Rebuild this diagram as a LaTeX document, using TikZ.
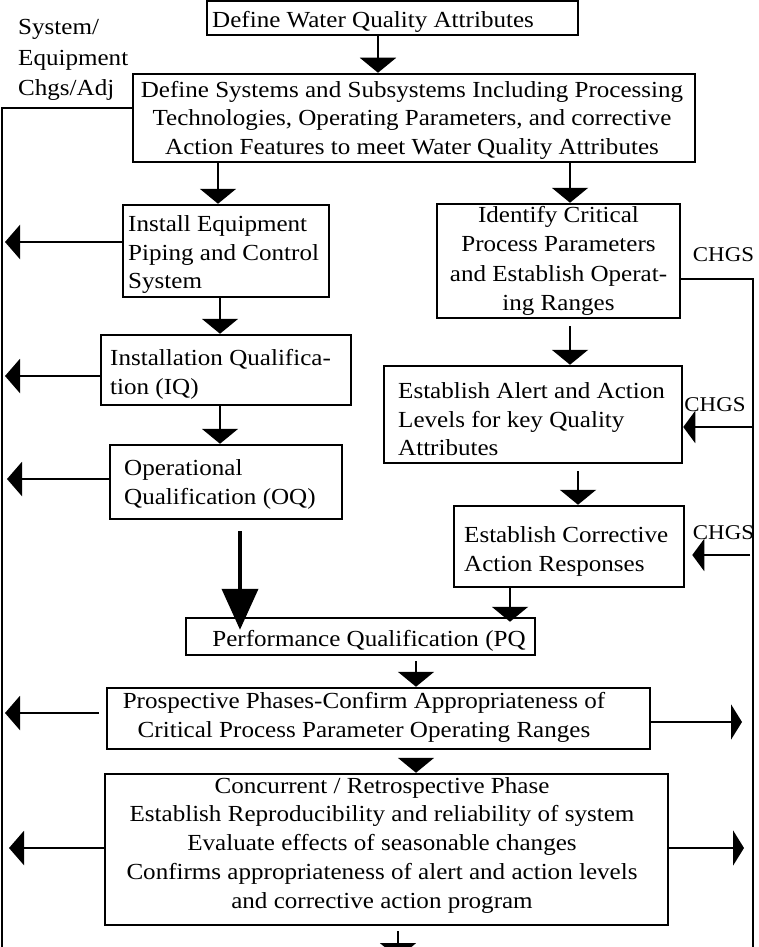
\documentclass[tikz,border=0pt]{standalone}
\usepackage{fontspec}
\setmainfont{Liberation Serif}[FakeStretch=1.09]
\usetikzlibrary{arrows.meta}
\begin{document}
\begin{tikzpicture}[x=1pt,y=-1pt,
  box/.style={draw,line width=2.5pt,inner sep=0pt},
  txt/.style={inner sep=0pt,font=\fontsize{23}{28.5}\selectfont},
  lab/.style={inner sep=0pt,align=left,font=\fontsize{23}{30.5}\selectfont},
  chgs/.style={inner sep=0pt,font=\fontsize{21}{24}\selectfont},
  arr/.style={line width=2.5pt,-{Triangle[length=15pt,width=36pt]}},
  bigarr/.style={line width=4pt,-{Triangle[length=41pt,width=36pt]}},
  larr/.style={line width=2.5pt,-{Triangle[length=15pt,width=34pt]}},
  carr/.style={line width=2.5pt,-{Triangle[length=12pt,width=32pt]}},
  rarr/.style={line width=2.5pt,-{Triangle[length=11pt,width=35pt]}},
  conn/.style={line width=2pt}]
\useasboundingbox (0,0) rectangle (758,947);
% boxes
\node[box,minimum width=371,minimum height=34] (b1) at (392.5,18) {};
\node[box,minimum width=562,minimum height=88] (b2) at (414,118) {};
\node[box,minimum width=206,minimum height=92] (b3) at (226,251) {};
\node[box,minimum width=243,minimum height=114] (b4) at (558.5,261) {};
\node[box,minimum width=250,minimum height=70] (biq) at (226,370) {};
\node[box,minimum width=232,minimum height=74] (boq) at (226,482) {};
\node[box,minimum width=298,minimum height=97] (b5) at (533,414.5) {};
\node[box,minimum width=230,minimum height=81] (b6) at (569,546.5) {};
\node[box,minimum width=349,minimum height=37] (pq) at (360.5,636.5) {};
\node[box,minimum width=543,minimum height=61] (bpr) at (378.5,718.5) {};
\node[box,minimum width=563,minimum height=151] (bcc) at (386.5,849.5) {};
% box texts
\node[txt,anchor=west] (b1t) at (212,22) {Define Water Quality Attributes};
\node[txt,align=center] (b2t) at (412,120) {Define Systems and Subsystems Including Processing\\Technologies, Operating Parameters, and corrective\\Action Features to meet Water Quality Attributes};
\node[txt,anchor=west,align=left] (b3t) at (128,255) {Install Equipment\\Piping and Control\\System};
\node[txt,align=center,font=\fontsize{23}{29.3}\selectfont] (b4t) at (558.5,261) {Identify Critical\\Process Parameters\\and Establish Operat-\\ing Ranges};
\node[txt,anchor=west,align=left] (biqt) at (110,374.5) {Installation Qualifica-\\tion (IQ)};
\node[txt,anchor=west,align=left] (boqt) at (124,484.5) {Operational\\Qualification (OQ)};
\node[txt,anchor=west,align=left] (b5t) at (398,419.5) {Establish Alert and Action\\Levels for key Quality\\Attributes};
\node[txt,anchor=west,align=left] (b6t) at (464,551.5) {Establish Corrective\\Action Responses};
\node[txt] (pqt) at (369,640.5) {Performance Qualification (PQ};
\node[txt,align=center] (bprt) at (364,717.5) {Prospective Phases-Confirm Appropriateness of\\Critical Process Parameter Operating Ranges};
\node[txt,align=center,font=\fontsize{23}{28.75}\selectfont] (bcct) at (382,845) {Concurrent / Retrospective Phase\\Establish Reproducibility and reliability of system\\Evaluate effects of seasonable changes\\Confirms appropriateness of alert and action levels\\and corrective action program};
% labels
\node[lab,anchor=west] (sys) at (18,60) {System/\\Equipment\\Chgs/Adj};
\node[chgs] (c1) at (723.5,255) {CHGS};
\node[chgs] (c2) at (715,405) {CHGS};
\node[chgs] (c3) at (723.5,533) {CHGS};
% helper coordinates
\coordinate (Lb) at (2,947);
\coordinate (Rb) at (753,947);
\coordinate (L) at (5,500);
\coordinate (bend) at (398,958);
% main flow
\draw[arr] ([xshift=-14.5]b1.south) -- ([xshift=-36]b2.north);
\draw[arr] ([xshift=-196]b2.south) -- ([xshift=-8]b3.north);
\draw[arr] ([xshift=156]b2.south) -- ([xshift=11.5]b4.north);
\draw[arr] ([xshift=-6]b3.south) -- ([xshift=-6]biq.north);
\draw[arr] ([xshift=-6]biq.south) -- ([xshift=-6]boq.north);
\draw[bigarr,shorten <=11pt,shorten >=-13pt] ([xshift=14]boq.south) -- ([xshift=-120.5]pq.north);
\draw[arr,shorten <=7pt] ([xshift=11.5]b4.south) -- ([xshift=37]b5.north);
\draw[arr,shorten <=7pt] ([xshift=45]b5.south) -- ([xshift=9]b6.north);
\draw[arr,shorten >=-5pt] ([xshift=-59]b6.south) -- ([xshift=149.5]pq.north);
\draw[arr,shorten <=5pt] ([xshift=55.5]pq.south) -- ([xshift=37.5]bpr.north);
\draw[arr,shorten <=9pt] ([xshift=37.5]bpr.south) -- ([xshift=29.5]bcc.north);
\draw[arr,shorten <=5pt] ([xshift=11.5]bcc.south) -- (bend);
% feedback lines
\draw[conn] ([yshift=10]b2.west) -| (Lb);
\draw[conn] ([yshift=-18]b4.east) -| (Rb);
% anchor points of side arrows
\path ([yshift=9]b3.west) coordinate (s3)
      ([yshift=-6]biq.west) coordinate (siq)
      ([yshift=3]boq.west) coordinate (soq)
      ([yshift=5.5]bpr.west) coordinate (spl)
      ([yshift=1.5]bcc.west) coordinate (scl)
      ([yshift=-12.5]b5.east) coordinate (s5)
      ([yshift=-8.5]b6.east) coordinate (s6)
      ([yshift=-3.5]bpr.east) coordinate (spr)
      ([yshift=1.5]bcc.east) coordinate (scr);
% left arrows
\draw[larr] (s3) -- (s3 -| L);
\draw[larr] (siq) -- (siq -| L);
\draw[larr,shorten >=2pt] (soq) -- (soq -| L);
\draw[larr,shorten <=7pt] (spl) -- (spl -| L);
\draw[larr,shorten >=4pt] (scl) -- (scl -| L);
% CHGS arrows
\draw[carr] (s5 -| Rb) -- (s5);
\draw[carr,shorten <=3pt,shorten >=7pt] (s6 -| Rb) -- (s6);
% right arrows
\draw[rarr,shorten >=11pt] (spr) -- (spr -| Rb);
\draw[rarr,shorten >=9pt] (scr) -- (scr -| Rb);
\end{tikzpicture}
\end{document}
